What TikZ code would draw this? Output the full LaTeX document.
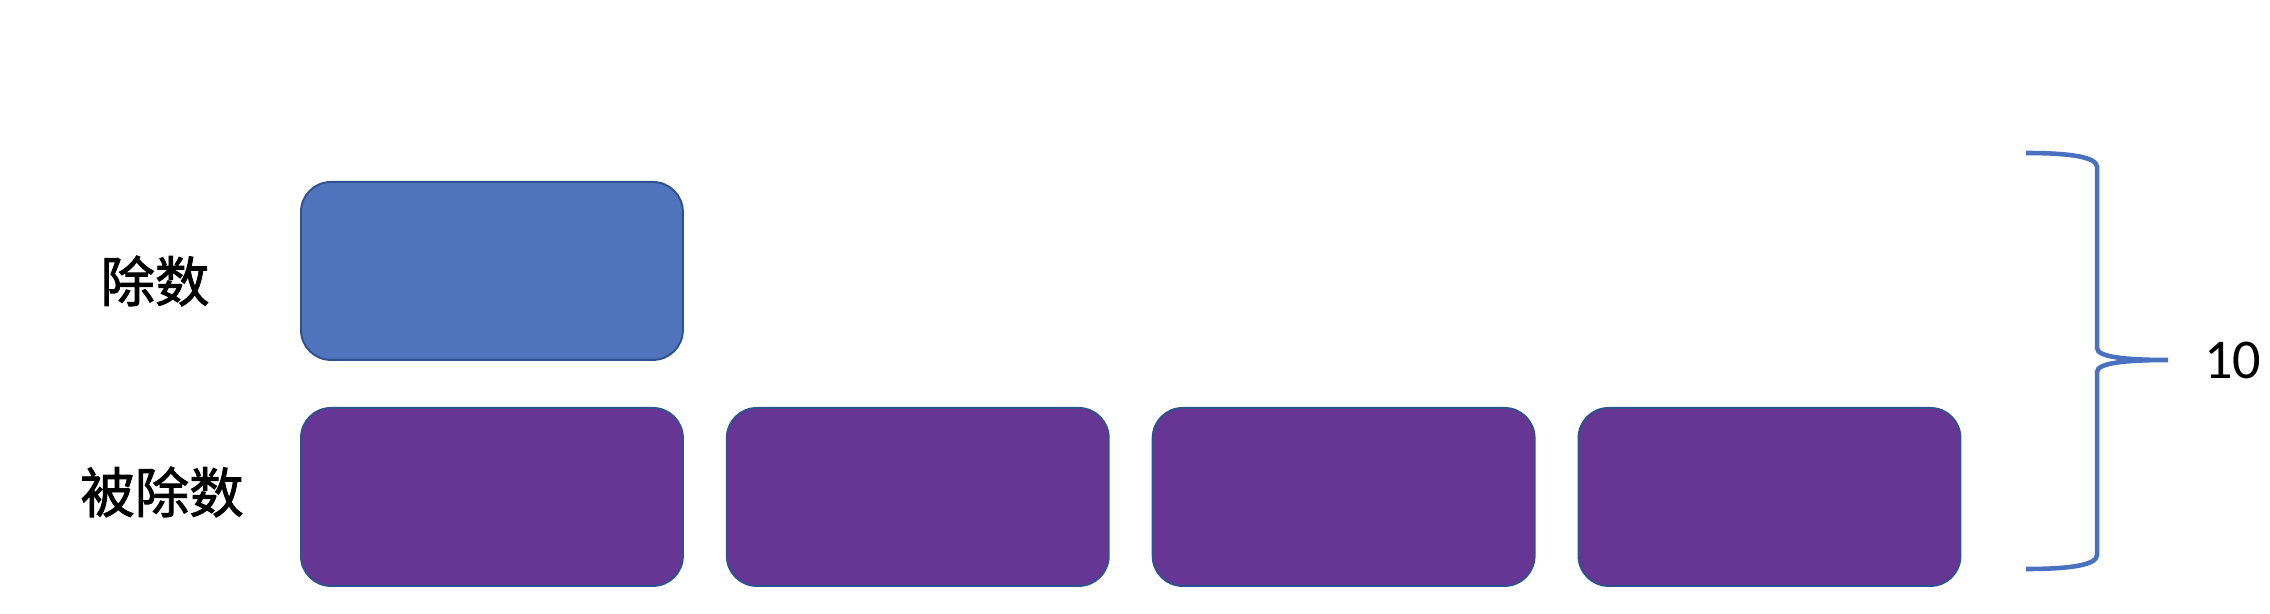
\documentclass[tikz,border=0pt]{standalone}
\usepackage{fontspec}
\setmainfont{Carlito}
\newfontfamily\cjk[FakeBold=1.6]{Noto Sans CJK SC}
\definecolor{divisorBlue}{HTML}{5073BE}
\definecolor{dividendPurple}{HTML}{673695}
\definecolor{edgeBlue}{HTML}{2F528F}
\definecolor{braceBlue}{HTML}{4A70C0}
\usetikzlibrary{positioning}

\begin{document}
\begin{tikzpicture}[x=0.02cm, y=-0.02cm,
    unitbox/.style={rounded corners=0.6cm, draw=edgeBlue, line width=1.1pt,
      minimum width=7.64cm, minimum height=3.56cm, inner sep=0pt, anchor=north west},
    tag/.style={font=\cjk\fontsize{31}{36}\selectfont, inner sep=0pt}]
  \useasboundingbox (0,0) rectangle (2270,614);

  % divisor and its label
  \node[unitbox, fill=divisorBlue] (divisor) at (300,181) {};
  \node[tag] (divisorTag) at (155,281) {除数};

  % dividend: four copies of the divisor
  \node[unitbox, fill=dividendPurple] (q1) at (300,407) {};
  \node[unitbox, fill=dividendPurple, anchor=west, right=0.84cm of q1] (q2) {};
  \node[unitbox, fill=dividendPurple, anchor=west, right=0.84cm of q2] (q3) {};
  \node[unitbox, fill=dividendPurple, anchor=west, right=0.84cm of q3] (q4) {};
  \node[tag] (dividendTag) at (162,492) {被除数};

  % brace with the count
  \coordinate (braceTop) at (2026,153);
  \coordinate (braceTip) at (2168,360);
  \coordinate (braceBot) at (2026,569);
  \draw[braceBlue, line width=2.6pt]
    (braceTop) .. controls (2070,153) and (2097,157) .. (2097,167)
    -- (2097,348) .. controls (2097,357) and (2125,360) .. (braceTip)
    .. controls (2125,360) and (2097,363) .. (2097,372)
    -- (2097,555) .. controls (2097,565) and (2070,569) .. (braceBot);
  \node[font=\fontsize{32}{38}\selectfont, anchor=west, inner sep=0pt,
    right=0.72cm of braceTip] (count) {10};
\end{tikzpicture}
\end{document}
